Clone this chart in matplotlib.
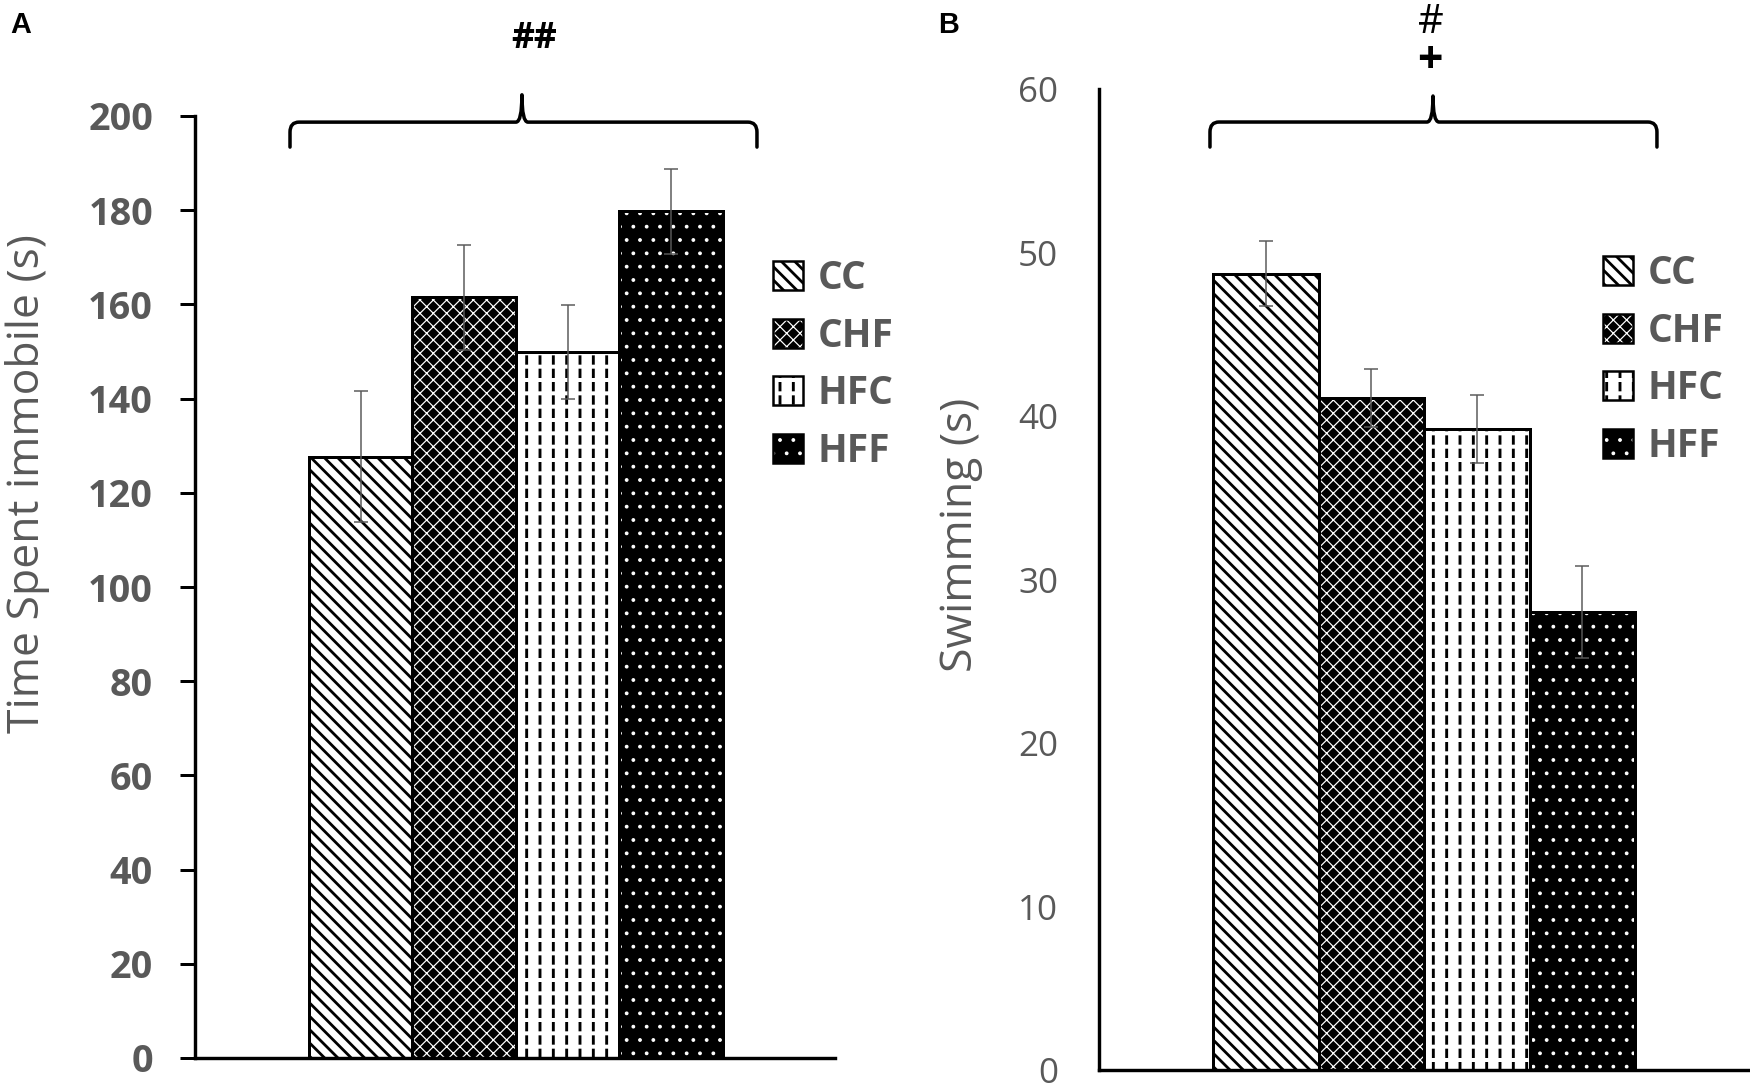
import matplotlib
matplotlib.use("Agg")
import matplotlib.pyplot as plt
from matplotlib.patches import Patch, PathPatch
from matplotlib.path import Path

W, H, DPI = 1750, 1086, 80
PT = 72 / DPI  # pixels -> points

groups = ["CC", "CHF", "HFC", "HFF"]
immobile_mean = [127.7, 161.5, 149.9, 179.8]
immobile_err = [14.0, 11.1, 10.0, 9.0]
swimming_mean = [48.7, 41.1, 39.2, 28.0]
swimming_err = [2.0, 1.8, 2.1, 2.8]
immobile_ticks = list(range(0, 201, 20))
swimming_ticks = list(range(0, 61, 10))

GRAY = "#595959"

# fill layers per group: (face, hatch colour, hatch, hatch linewidth in pt)
STYLES = {
    "CC": [("white", "black", "\\\\", 2.5)],
    "CHF": [("black", "white", "xx", 1.1)],
    "HFC": [("white", "black", "|", 2.6), ("none", "white", "-", 3.6)],
    "HFF": [("black", "white", ".", 1.0)],
}

plt.rcParams["font.family"] = ["Open Sans", "DejaVu Sans"]


def fx(px):
    return px / W


def fy(px):
    return 1 - px / H


def draw_bars(ax, values, errors):
    x = list(range(len(groups)))
    for i, g in enumerate(groups):
        for face, hcol, hatch, hlw in STYLES[g]:
            # hatch width is taken from rcParams when the patch is made
            with plt.rc_context({"hatch.linewidth": hlw}):
                ax.bar(i, values[i], width=1, facecolor=face, edgecolor=hcol,
                       hatch=hatch, linewidth=0, zorder=2)
    ax.bar(x, values, width=1, fill=False, edgecolor="black",
           linewidth=3 * PT, zorder=3)
    ax.errorbar(x, values, yerr=errors, fmt="none", ecolor=GRAY,
                elinewidth=1.5 * PT, capsize=7 * PT, capthick=1.5 * PT, zorder=4)


def legend_handles():
    handles = []
    for g in groups:
        parts = []
        for face, hcol, hatch, hlw in STYLES[g]:
            p = Patch(facecolor=face, edgecolor=hcol, hatch=hatch, linewidth=0)
            p.set_hatch_linewidth(hlw)
            parts.append(p)
        parts.append(Patch(fill=False, edgecolor="black", linewidth=2.5 * PT))
        handles.append(tuple(parts))
    return handles


def brace(ax, x0, x1, xc, y_end, y_mid, y_tip):
    xl, yl = ax.get_xlim(), ax.get_ylim()
    sx = ax.bbox.width / (xl[1] - xl[0])
    sy = ax.bbox.height / (yl[1] - yl[0])
    dx, ry, dt = 9 / sx, 10 / sy, 6 / sx
    verts = [(x0, y_end), (x0, y_mid - ry), (x0, y_mid), (x0 + dx, y_mid),
             (xc - dt, y_mid), (xc, y_mid), (xc, y_tip),
             (xc, y_mid), (xc + dt, y_mid),
             (x1 - dx, y_mid), (x1, y_mid), (x1, y_mid - ry), (x1, y_end)]
    codes = [Path.MOVETO, Path.LINETO, Path.CURVE3, Path.CURVE3,
             Path.LINETO, Path.CURVE3, Path.CURVE3,
             Path.CURVE3, Path.CURVE3,
             Path.LINETO, Path.CURVE3, Path.CURVE3, Path.LINETO]
    ax.add_patch(PathPatch(Path(verts, codes), fill=False, edgecolor="black",
                           linewidth=3.5 * PT, capstyle="round",
                           joinstyle="round", clip_on=False, zorder=5))


def style_axes(ax):
    for side in ("top", "right"):
        ax.spines[side].set_visible(False)
    for side in ("left", "bottom"):
        ax.spines[side].set_linewidth(3.4 * PT)
        ax.spines[side].set_color("black")
    ax.set_xticks([])


def add_legend(ax, x_px, y_px):
    leg = ax.legend(legend_handles(), groups, loc="upper left",
                    bbox_to_anchor=(fx(x_px), fy(y_px)),
                    bbox_transform=fig.transFigure, frameon=False,
                    labelcolor=GRAY, prop={"weight": "bold", "size": 35},
                    handlelength=0.77, handleheight=0.77, handletextpad=0.37,
                    labelspacing=0.48, borderpad=0, borderaxespad=0)
    # copied legend patches lose the hatch width, so set it again
    widths = {h: lw for layers in STYLES.values() for _, _, h, lw in layers}
    for p in leg.findobj(Patch):
        if p.get_hatch() in widths:
            p.set_hatch_linewidth(widths[p.get_hatch()])
    return leg


fig = plt.figure(figsize=(W / DPI, H / DPI), dpi=DPI)

# ---- panel A
axA = fig.add_axes([fx(195), fy(1058), 640 / W, 942 / H])
draw_bars(axA, immobile_mean, immobile_err)
axA.set_xlim(-1.601, 4.583)
axA.set_ylim(0, 200)
axA.set_yticks(immobile_ticks)
style_axes(axA)
axA.tick_params(axis="y", direction="out", length=15 * PT, width=3 * PT,
                pad=27 * PT, labelsize=34, labelcolor=GRAY)
for lbl in axA.get_yticklabels():
    lbl.set_fontweight("bold")
brace(axA, -0.683, 3.829, 1.558, 193.4, 198.7, 204.5)
add_legend(axA, 773, 259)
fig.text(fx(28), fy(484), "Time Spent immobile (s)", rotation=90,
         ha="center", va="center", fontsize=40, color=GRAY)

# ---- panel B
axB = fig.add_axes([fx(1099), fy(1070), 651 / W, 981 / H])
draw_bars(axB, swimming_mean, swimming_err)
axB.set_xlim(-1.581, 4.590)
axB.set_ylim(0, 60)
axB.set_yticks(swimming_ticks)
style_axes(axB)
axB.tick_params(axis="y", length=0, pad=41 * PT, labelsize=31.5, labelcolor=GRAY)
brace(axB, -0.529, 3.708, 1.585, 56.45, 57.98, 59.57)
add_legend(axB, 1603, 254)
fig.text(fx(961), fy(535), "Swimming (s)", rotation=90,
         ha="center", va="center", fontsize=40, color=GRAY)

# ---- annotations
fig.text(fx(10), fy(33), "A", ha="left", va="baseline", fontsize=26,
         fontweight="bold", family="Liberation Sans")
fig.text(fx(938), fy(33), "B", ha="left", va="baseline", fontsize=26,
         fontweight="bold", family="Liberation Sans")
fig.text(fx(534), fy(48), "##", ha="center", va="baseline", fontsize=32,
         fontweight="bold")
fig.text(fx(1431), fy(33), "#", ha="center", va="baseline", fontsize=36)
fig.text(fx(1430), fy(73), "+", ha="center", va="baseline", fontsize=40,
         fontweight="bold")

fig.savefig("out.png", dpi=DPI)
